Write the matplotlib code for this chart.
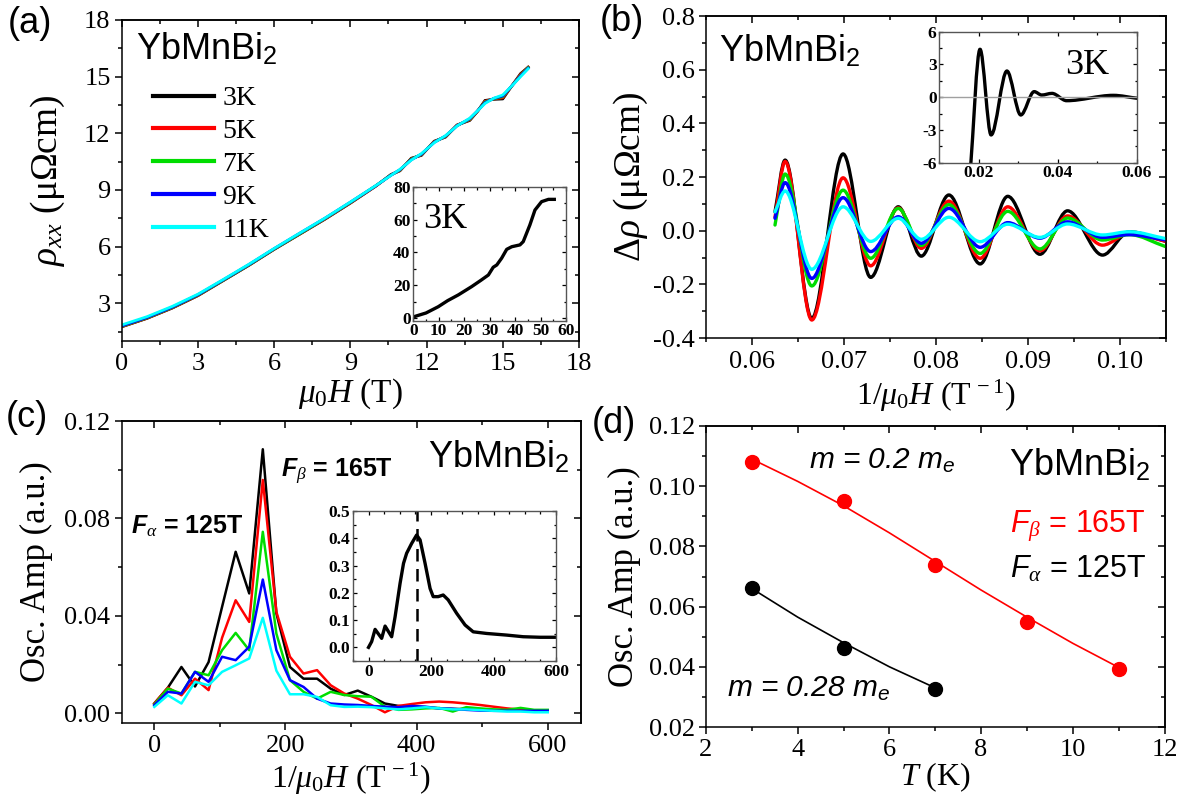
import matplotlib
matplotlib.use("Agg")
import matplotlib.pyplot as plt
from matplotlib.path import Path
from matplotlib.patches import PathPatch
from matplotlib.ticker import MultipleLocator, AutoMinorLocator

plt.rcParams.update({
    "font.family": "Liberation Serif",
    "axes.unicode_minus": False,
    "mathtext.fontset": "custom",
    "mathtext.rm": "Liberation Serif",
    "mathtext.it": "Liberation Serif:italic",
    "mathtext.bf": "Liberation Serif:bold",
    "mathtext.sf": "Liberation Sans:italic",
})
try:
    plt.rcParams["mathtext.bfit"] = "Liberation Sans:italic:bold"
    F_ALPHA_BOLD = r"$\mathbfit{F}_{\alpha}$"
    F_BETA_BOLD = r"$\mathbfit{F}_{\beta}$"
except KeyError:
    F_ALPHA_BOLD = r"$\mathsf{F}_{\alpha}$"
    F_BETA_BOLD = r"$\mathsf{F}_{\beta}$"

temps = ["3K", "5K", "7K", "9K", "11K"]
colors = ["black", "#ff0000", "#00dd00", "#0000ff", "#00ffff"]

# (a) rho_xx vs field
field = [0, 1, 2, 3, 4, 5, 6, 7, 8, 9, 10, 10.6, 10.95, 11.4, 11.8, 12.3, 12.75,
         13.2, 13.7, 14.0, 14.3, 14.65, 15.0, 15.35, 15.7, 16.0]
rho_3K = [1.75, 2.2, 2.75, 3.4, 4.2, 5.0, 5.85, 6.65, 7.45, 8.3, 9.2, 9.82, 10.01,
          10.68, 10.83, 11.58, 11.8, 12.44, 12.68, 13.15, 13.74, 13.8, 13.82, 14.5,
          15.16, 15.5]
rho_5K = [1.76, 2.21, 2.76, 3.41, 4.21, 5.01, 5.86, 6.66, 7.46, 8.31, 9.2, 9.8, 10.03,
          10.65, 10.86, 11.56, 11.82, 12.43, 12.71, 13.16, 13.7, 13.82, 13.88, 14.5,
          15.12, 15.5]
rho_7K = [1.78, 2.23, 2.78, 3.43, 4.22, 5.02, 5.87, 6.67, 7.48, 8.33, 9.22, 9.79, 10.05,
          10.63, 10.88, 11.54, 11.84, 12.41, 12.74, 13.17, 13.66, 13.83, 13.94, 14.5,
          15.07, 15.48]
rho_9K = [1.8, 2.25, 2.8, 3.45, 4.24, 5.04, 5.89, 6.7, 7.5, 8.35, 9.22, 9.78, 10.07,
          10.6, 10.9, 11.52, 11.86, 12.4, 12.77, 13.18, 13.62, 13.85, 13.98, 14.5,
          15.04, 15.45]
rho_11K = [1.85, 2.29, 2.84, 3.48, 4.26, 5.06, 5.9, 6.71, 7.51, 8.36, 9.23, 9.77, 10.09,
           10.58, 10.93, 11.5, 11.88, 12.39, 12.8, 13.18, 13.58, 13.86, 14.03, 14.5,
           15.0, 15.42]

# (a) inset, 3 K pulsed field
hf_field = [0.4, 5, 9.8, 13.5, 17.7, 22.9, 26.5, 29.5, 31.4, 32.8, 34.7, 36.7, 38.7,
            41.9, 43.2, 45.8, 47.8, 50.4, 53.1, 55.4]
hf_rho = [1.0, 3.2, 7.0, 10.7, 14.2, 19.2, 23.0, 26.3, 31.0, 32.4, 36.5, 41.9, 43.5,
          44.6, 46.6, 56.7, 65.8, 70.9, 72.3, 72.3]

# (b) oscillating part vs 1/B, extrema of each trace
inv_field = [0.0625, 0.0636, 0.0665, 0.0699, 0.0729, 0.0759, 0.0784, 0.0814, 0.0848,
             0.0878, 0.0913, 0.0943, 0.0981, 0.1010, 0.1050]
drho_3K = [0.07, 0.263, -0.327, 0.286, -0.174, 0.089, -0.095, 0.133, -0.124, 0.128,
           -0.088, 0.074, -0.091, -0.004, -0.04]
drho_5K = [0.05, 0.258, -0.333, 0.197, -0.131, 0.085, -0.066, 0.11, -0.103, 0.089,
           -0.075, 0.055, -0.054, -0.01, -0.04]
drho_7K = [0.021, 0.211, -0.206, 0.151, -0.103, 0.083, -0.055, 0.097, -0.085, 0.072,
           -0.068, 0.047, -0.035, -0.015, -0.06]
drho_9K = [0.046, 0.179, -0.178, 0.123, -0.078, 0.052, -0.047, 0.083, -0.062, 0.03,
           -0.028, 0.033, -0.025, -0.015, -0.035]
drho_11K = [0.07, 0.148, -0.144, 0.089, -0.04, 0.046, -0.032, 0.05, -0.041, 0.024,
            -0.025, 0.025, -0.016, -0.004, -0.03]

# (b) inset, 3 K pulsed field
hf_inv_field = [0.0178, 0.0203, 0.0231, 0.0271, 0.0306, 0.0340, 0.0359, 0.0385,
                0.0422, 0.0540, 0.0600]
hf_drho = [-7.0, 4.39, -3.46, 2.40, -1.63, 0.51, 0.20, 0.35, -0.32, 0.17, -0.10]

# (c) FFT amplitude
freq = [0, 20.7, 41.4, 62.1, 82.8, 103.4, 124.1, 144.8, 165.5, 186.2, 206.9, 227.6,
        248.3, 269.0, 289.7, 310.3, 331.0, 351.7, 372.4, 393.1, 413.8, 434.5, 455.2,
        475.9, 496.6, 517.2, 537.9, 558.6, 579.3, 600.0]
amp_3K = [0.0040, 0.0105, 0.0190, 0.0110, 0.0210, 0.0437, 0.0663, 0.0492, 0.1084,
          0.0410, 0.0190, 0.0142, 0.0142, 0.0101, 0.0075, 0.0093, 0.0068, 0.0040,
          0.0030, 0.0027, 0.0025, 0.0020, 0.0018, 0.0017, 0.0015, 0.0013, 0.0012,
          0.0011, 0.0010, 0.0010]
amp_5K = [0.0040, 0.0105, 0.0074, 0.0142, 0.0095, 0.0310, 0.0464, 0.0375, 0.0958,
          0.0416, 0.0232, 0.0163, 0.0177, 0.0115, 0.0081, 0.0060, 0.0034, 0.0004,
          0.0030, 0.0038, 0.0045, 0.0048, 0.0045, 0.0040, 0.0034, 0.0027, 0.0020,
          0.0015, 0.0012, 0.0012]
amp_7K = [0.0036, 0.0101, 0.0081, 0.0170, 0.0156, 0.0259, 0.0330, 0.0259, 0.0745,
          0.0327, 0.0136, 0.0088, 0.0060, 0.0088, 0.0075, 0.0070, 0.0068, 0.0027,
          0.0014, 0.0016, 0.0020, 0.0022, 0.0007, 0.0025, 0.0020, 0.0016, 0.0014,
          0.0022, 0.0014, 0.0014]
amp_9K = [0.0033, 0.0088, 0.0081, 0.0170, 0.0129, 0.0232, 0.0218, 0.0273, 0.0549,
          0.0259, 0.0136, 0.0108, 0.0060, 0.0040, 0.0036, 0.0034, 0.0030, 0.0027,
          0.0025, 0.0030, 0.0027, 0.0020, 0.0018, 0.0014, 0.0011, 0.0010, 0.0010,
          0.0010, 0.0010, 0.0010]
amp_11K = [0.0026, 0.0074, 0.0040, 0.0129, 0.0115, 0.0170, 0.0197, 0.0225, 0.0392,
           0.0175, 0.0078, 0.0078, 0.0067, 0.0033, 0.0026, 0.0027, 0.0025, 0.0020,
           0.0016, 0.0020, 0.0025, 0.0020, 0.0016, 0.0016, 0.0013, 0.0010, 0.0007,
           0.0007, 0.0004, 0.0004]

# (c) inset, FFT of the pulsed-field data
hf_freq = [0, 10, 21, 42, 53, 74, 85, 101, 112, 122, 138, 154, 165, 181, 197, 207,
           223, 239, 255, 282, 309, 335, 378, 442, 495, 549, 600]
hf_amp = [0.0, 0.021, 0.066, 0.033, 0.078, 0.039, 0.112, 0.235, 0.308, 0.345, 0.381,
          0.412, 0.394, 0.308, 0.216, 0.186, 0.186, 0.192, 0.174, 0.125, 0.082, 0.057,
          0.051, 0.045, 0.039, 0.037, 0.037]
f_peak = 155

# (d) amplitude vs temperature with LK fits
T_beta = [3, 5, 7, 9, 11]
A_beta = [0.1081, 0.0951, 0.0738, 0.0550, 0.0392]
T_alpha = [3, 5, 7]
A_alpha = [0.0663, 0.0461, 0.0325]
T_beta_fit = [3, 4, 5, 6, 7, 8, 9, 10, 11]
A_beta_fit = [0.1090, 0.1016, 0.0935, 0.0845, 0.0750, 0.0655, 0.0565, 0.0478, 0.0398]
T_alpha_fit = [3, 4, 5, 6, 7]
A_alpha_fit = [0.0660, 0.0565, 0.0480, 0.0400, 0.0330]

W, H = 1185, 796
SANS = "Liberation Sans"
SERIF = "Liberation Serif"
TICK_FS = 19
XLABEL_FS = 23
INV_FIELD_LABEL = r"$\mathit{1/}\mu_{\mathit{0}}H$ (T$^{\mathregular{\,-1}}$)"


def frame(left, right, top, bottom):
    return [left / W, 1 - bottom / H, (right - left) / W, (bottom - top) / H]


def smooth_line(ax, xs, ys, color, lw):
    # cubic segments through the extrema, flat tangents at the turning points
    verts = [(xs[0], ys[0])]
    codes = [Path.MOVETO]
    n = len(xs)
    for i in range(n - 1):
        x0, y0, x1, y1 = xs[i], ys[i], xs[i + 1], ys[i + 1]
        dx = x1 - x0
        s = (y1 - y0) / dx
        s0 = s if i == 0 else 0.0
        s1 = s if i == n - 2 else 0.0
        verts += [(x0 + dx / 3, y0 + s0 * dx / 3), (x1 - dx / 3, y1 - s1 * dx / 3),
                  (x1, y1)]
        codes += [Path.CURVE4] * 3
    ax.add_patch(PathPatch(Path(verts, codes), fill=False, edgecolor=color, lw=lw,
                           capstyle="round", joinstyle="round"))


def style_main(ax, xmaj, ymaj):
    for sp in ax.spines.values():
        sp.set_linewidth(1.1)
    ax.xaxis.set_major_locator(MultipleLocator(xmaj))
    ax.xaxis.set_minor_locator(AutoMinorLocator(2))
    ax.yaxis.set_major_locator(MultipleLocator(ymaj))
    ax.yaxis.set_minor_locator(AutoMinorLocator(2))
    ax.tick_params(which="both", direction="out", width=1.1, labelsize=TICK_FS,
                   labelfontfamily=SERIF)
    ax.tick_params(which="major", length=5)
    ax.tick_params(which="minor", length=3)
    ax.tick_params(axis="x", pad=4)
    ax.tick_params(axis="y", pad=3)
    top = ax.secondary_xaxis("top")
    top.xaxis.set_major_locator(MultipleLocator(xmaj))
    top.xaxis.set_minor_locator(AutoMinorLocator(2))
    top.tick_params(which="both", direction="in", width=1.1, labeltop=False)
    top.tick_params(which="major", length=5)
    top.tick_params(which="minor", length=3)
    top.spines["top"].set_linewidth(1.1)
    right = ax.secondary_yaxis("right")
    right.yaxis.set_major_locator(MultipleLocator(ymaj))
    right.yaxis.set_minor_locator(AutoMinorLocator(2))
    right.tick_params(which="both", direction="in", width=1.1, labelright=False)
    right.tick_params(which="major", length=5)
    right.tick_params(which="minor", length=3)
    right.spines["right"].set_linewidth(1.1)


def style_inset(ax, xticks, xlabels, yticks, ylabels, nminor=2):
    for sp in ax.spines.values():
        sp.set_linewidth(1.0)
        sp.set_edgecolor("#555555")
    ax.set_xticks(xticks, labels=xlabels, fontweight="bold", family=SERIF)
    ax.set_yticks(yticks, labels=ylabels, fontweight="bold", family=SERIF)
    ax.xaxis.set_minor_locator(AutoMinorLocator(nminor))
    ax.yaxis.set_minor_locator(AutoMinorLocator(2))
    ax.tick_params(which="both", direction="in", top=True, right=True, width=0.9,
                   labelsize=12.5, pad=2)
    ax.tick_params(which="major", length=3)
    ax.tick_params(which="minor", length=1.8)


fig = plt.figure(figsize=(W / 100, H / 100), dpi=100)
fig.patch.set_facecolor("white")

# ---------------- (a)
ax = fig.add_axes(frame(121.7, 579, 20, 341))
for rho, c, t in zip([rho_3K, rho_5K, rho_7K, rho_9K, rho_11K], colors, temps):
    ax.plot(field, rho, color=c, lw=2.0, label=t)
ax.set_xlim(0, 18)
ax.set_ylim(1, 18)
style_main(ax, 3, 3)
ax.set_xlabel(r"$\mu_{\mathit{0}}H$ (T)", fontsize=XLABEL_FS + 1)
ax.set_ylabel(r"$\rho_{xx}$ (μΩcm)", fontsize=27)
ax.xaxis.set_label_coords(0.5, -0.11)
ax.yaxis.set_label_coords(-0.12, 0.5)
ax.text(0.56, 15.9, r"YbMnBi$_\mathregular{2}$", family=SANS, fontsize=26)
leg = ax.legend(loc="upper left", bbox_to_anchor=(0.068, 0.795), frameon=False,
                fontsize=20, handlelength=2.2, handletextpad=0.3, labelspacing=0.27,
                borderpad=0, borderaxespad=0)
for ln in leg.get_lines():
    ln.set_linewidth(3)

ai = fig.add_axes(frame(413.3, 566, 186.7, 320.7))
ai.plot(hf_field, hf_rho, color="black", lw=2.4)
ai.set_xlim(0, 60)
ai.set_ylim(-1.5, 80)
style_inset(ai, [0, 10, 20, 30, 40, 50, 60], ["0", "10", "20", "30", "40", "50", "60"],
            [0, 20, 40, 60, 80], ["0", "20", "40", "60", "80"])
ai.text(3.9, 54.9, "3K", fontsize=26)

# ---------------- (b)
bx = fig.add_axes(frame(706, 1166, 16, 338))
for d, c in zip([drho_3K, drho_5K, drho_7K, drho_9K, drho_11K], colors):
    smooth_line(bx, inv_field, d, c, 2.4)
bx.set_xlim(0.055, 0.105)
bx.set_ylim(-0.4, 0.8)
style_main(bx, 0.01, 0.2)
bx.xaxis.set_major_formatter(plt.FormatStrFormatter("%.2f"))
bx.yaxis.set_major_formatter(plt.FormatStrFormatter("%.1f"))
bx.set_xlabel(INV_FIELD_LABEL, fontsize=XLABEL_FS)
bx.set_ylabel(r"$\mathit{\Delta}\rho$ (μΩcm)", fontsize=27)
bx.xaxis.set_label_coords(0.5, -0.125)
bx.yaxis.set_label_coords(-0.122, 0.5)
bx.text(0.0564, 0.629, r"YbMnBi$_\mathregular{2}$", family=SANS, fontsize=26)

bi = fig.add_axes(frame(939.3, 1137, 31.7, 162.7))
bi.axhline(0, color="#a0a0a0", lw=1.0)
smooth_line(bi, hf_inv_field, hf_drho, "black", 2.4)
bi.set_xlim(0.01, 0.06)
bi.set_ylim(-6, 6)
style_inset(bi, [0.02, 0.04, 0.06], ["0.02", "0.04", "0.06"],
            [-6, -3, 0, 3, 6], ["-6", "-3", "0", "3", "6"])
bi.text(0.0417, 2.12, "3K", fontsize=26)

# ---------------- (c)
cx = fig.add_axes(frame(121.5, 580.5, 421, 723))
for a, c in zip([amp_3K, amp_5K, amp_7K, amp_9K, amp_11K], colors):
    cx.plot(freq, a, color=c, lw=1.8)
cx.set_xlim(-50, 650)
cx.set_ylim(-0.004, 0.12)
style_main(cx, 200, 0.04)
cx.yaxis.set_major_formatter(plt.FormatStrFormatter("%.2f"))
cx.set_xlabel(INV_FIELD_LABEL, fontsize=XLABEL_FS)
cx.set_ylabel("Osc. Amp (a.u.)", fontsize=25)
cx.xaxis.set_label_coords(0.5, -0.125)
cx.yaxis.set_label_coords(-0.149, 0.5)
cx.text(-35, 0.074, F_ALPHA_BOLD + " = 125T", family=SANS, fontweight="bold",
        fontsize=18)
cx.text(194, 0.097, F_BETA_BOLD + " = 165T", family=SANS, fontweight="bold",
        fontsize=18)
cx.text(418, 0.1007, r"YbMnBi$_\mathregular{2}$", family=SANS, fontsize=26)

ci = fig.add_axes(frame(352.9, 556, 511, 661))
ci.plot(hf_freq, hf_amp, color="black", lw=2.4)
ci.axvline(f_peak, color="black", lw=1.8, ls=(0, (5, 3)))
ci.set_xlim(-50, 600)
ci.set_ylim(-0.05, 0.5)
style_inset(ci, [0, 200, 400, 600], ["0", "200", "400", "600"],
            [0.0, 0.1, 0.2, 0.3, 0.4, 0.5], ["0.0", "0.1", "0.2", "0.3", "0.4", "0.5"],
            nminor=4)

# ---------------- (d)
dx = fig.add_axes(frame(706, 1164.5, 426, 727))
dx.plot(T_beta_fit, A_beta_fit, color="#ff0000", lw=1.2)
dx.plot(T_alpha_fit, A_alpha_fit, color="black", lw=1.2)
dx.plot(T_beta, A_beta, "o", color="#ff0000", ms=10)
dx.plot(T_alpha, A_alpha, "o", color="black", ms=10)
dx.set_xlim(2, 12)
dx.set_ylim(0.02, 0.12)
style_main(dx, 2, 0.02)
dx.yaxis.set_major_formatter(plt.FormatStrFormatter("%.2f"))
dx.set_xlabel(r"$T$ (K)", fontsize=XLABEL_FS)
dx.set_ylabel("Osc. Amp (a.u.)", fontsize=25)
dx.xaxis.set_label_coords(0.5, -0.11)
dx.yaxis.set_label_coords(-0.142, 0.5)
dx.text(4.25, 0.1057, r"m = 0.2 m$_\mathsf{e}$", family=SANS, style="italic",
        fontsize=21.5)
dx.text(8.6, 0.1034, r"YbMnBi$_\mathregular{2}$", family=SANS, fontsize=26)
dx.text(8.63, 0.0845, r"$\mathsf{F}_{\beta}$ = 165T", family=SANS, fontsize=22,
        color="#ff0000")
dx.text(8.63, 0.0698, r"$\mathsf{F}_{\alpha}$ = 125T", family=SANS, fontsize=22,
        color="black")
dx.text(2.46, 0.030, r"m = 0.28 m$_\mathsf{e}$", family=SANS, style="italic",
        fontsize=21.5)

# panel letters
for lbl, px, py in [("(a)", 8, 6), ("(b)", 600, 4), ("(c)", 6, 400),
                    ("(d)", 592, 406)]:
    fig.text(px / W, 1 - py / H, lbl, family=SANS, fontsize=26, va="top")

fig.savefig("out.png", dpi=100)
